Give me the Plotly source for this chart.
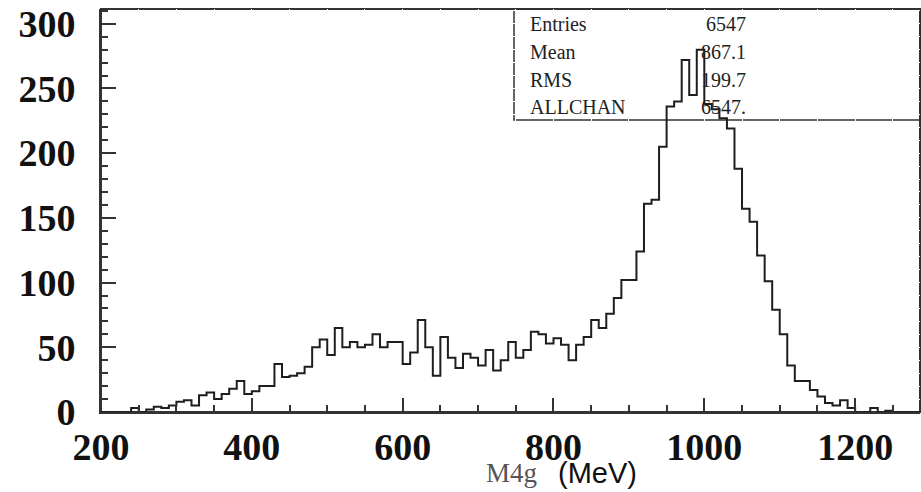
import plotly.graph_objects as go

# ---- data ----
bin_start = 200          # MeV, lower edge of first bin
bin_width = 10           # MeV
counts = [
    0, 0, 0, 0, 3, 0, 2, 4, 3, 5,            # 200-290
    8, 9, 5, 13, 15, 10, 14, 18, 24, 14,     # 300-390
    16, 20, 20, 37, 27, 28, 30, 35, 50, 56,  # 400-490
    44, 65, 50, 54, 50, 52, 60, 50, 54, 54,  # 500-590
    37, 46, 71, 50, 28, 58, 42, 34, 45, 42,  # 600-690
    36, 48, 32, 40, 54, 42, 48, 62, 60, 53,  # 700-790
    57, 52, 40, 52, 58, 71, 65, 76, 88, 102, # 800-890
    102, 124, 161, 164, 205, 236, 240, 272, 245, 280,  # 900-990
    238, 234, 227, 219, 188, 157, 147, 121, 101, 79,   # 1000-1090
    60, 36, 24, 24, 17, 12, 7, 5, 9, 3,      # 1100-1190
    0, 0, 3, 0, 1, 0, 0, 0, 0, 0,            # 1200-1290
]
stat_labels = ["Entries", "Mean", "RMS", "ALLCHAN"]
stat_values = ["6547", "867.1", "199.7", "6547."]
x_title_main = "M4g"
x_title_unit = "(MeV)"

# ---- build step outline ----
edges = [bin_start + bin_width * i for i in range(len(counts) + 1)]
steps = counts + [counts[-1]]

W, H = 921, 492
L, R, T, B = 101, 1, 9, 80
pw, ph = W - L - R, H - T - B
XR = [200, 1286]
YR = [0, 311.4]

def px(xp):
    return (xp - L) / pw

def py(yp):
    return (H - B - yp) / ph

axcol = "#333333"
clear = "rgba(0,0,0,0)"

fig = go.Figure()
fig.add_trace(go.Scatter(
    x=edges, y=steps, mode="lines", line_shape="hv",
    line=dict(color="#1e1e1e", width=2), showlegend=False))
# invisible copy that carries the minor-tick overlay axes
fig.add_trace(go.Scatter(
    x=edges, y=steps, mode="lines", line=dict(width=0.1, color="white"),
    opacity=0, xaxis="x2", yaxis="y2", showlegend=False))

fig.update_layout(
    # primary axes: labels, lines and major ticks (auto spacing 200 / 50)
    xaxis=dict(range=XR, ticks="inside", ticklen=14, tickwidth=2, tickcolor=axcol,
               showline=True, linewidth=2, linecolor=axcol,
               gridcolor="white", zerolinecolor="white",
               tickfont=dict(family="Liberation Serif", size=38, color="#111111"),
               tickprefix="<b>", ticksuffix="</b>"),
    yaxis=dict(range=YR, ticks="inside", ticklen=15, tickwidth=2, tickcolor=axcol,
               showline=True, linewidth=2, linecolor=axcol,
               gridcolor="white", zerolinecolor="white",
               tickfont=dict(family="Liberation Serif", size=38, color="#111111"),
               tickprefix="<b>", ticksuffix="</b>", ticklabelstandoff=16),
    # minor ticks (auto spacing 50 / 10)
    xaxis2=dict(range=XR, overlaying="x", anchor="y2", side="bottom", nticks=24,
                ticks="inside", ticklen=7, tickwidth=2, tickcolor=axcol,
                showticklabels=False, gridcolor="white", zerolinecolor="white"),
    yaxis2=dict(range=YR, overlaying="y", anchor="x2", side="left", nticks=32,
                ticks="inside", ticklen=7, tickwidth=2, tickcolor=axcol,
                showticklabels=False, gridcolor="white", zerolinecolor="white"),
)

# frame (top / right edges)
fig.add_shape(type="rect", xref="paper", yref="paper", x0=0, x1=1, y0=0, y1=1,
              line=dict(color=axcol, width=2), fillcolor=clear, layer="below")
# stats box
fig.add_shape(type="rect", xref="paper", yref="paper",
              x0=px(514), x1=1, y0=py(120), y1=1,
              line=dict(color=axcol, width=1.5), fillcolor=clear, layer="below")
row_y = [24, 52, 80, 107]
for lab, val, yy in zip(stat_labels, stat_values, row_y):
    fig.add_annotation(xref="paper", yref="paper", x=px(528), y=py(yy),
                       text=lab, showarrow=False, xanchor="left", yanchor="middle",
                       font=dict(family="Liberation Serif", size=20, color="#222222"))
    fig.add_annotation(xref="paper", yref="paper", x=px(748), y=py(yy),
                       text=val, showarrow=False, xanchor="right", yanchor="middle",
                       font=dict(family="Liberation Serif", size=20, color="#222222"))

# axis title
fig.add_annotation(xref="paper", yref="paper", x=px(539), y=py(473),
                   text=x_title_main, showarrow=False, xanchor="right", yanchor="middle",
                   font=dict(family="Liberation Serif", size=27, color="#555555"))
fig.add_annotation(xref="paper", yref="paper", x=px(556), y=py(473),
                   text=x_title_unit, showarrow=False, xanchor="left", yanchor="middle",
                   font=dict(family="Liberation Sans", size=29, color="#111111"))

fig.update_layout(
    width=W, height=H, margin=dict(l=L, r=R, t=T, b=B),
    paper_bgcolor="white", plot_bgcolor="white", showlegend=False)

fig.write_html("out.html")
